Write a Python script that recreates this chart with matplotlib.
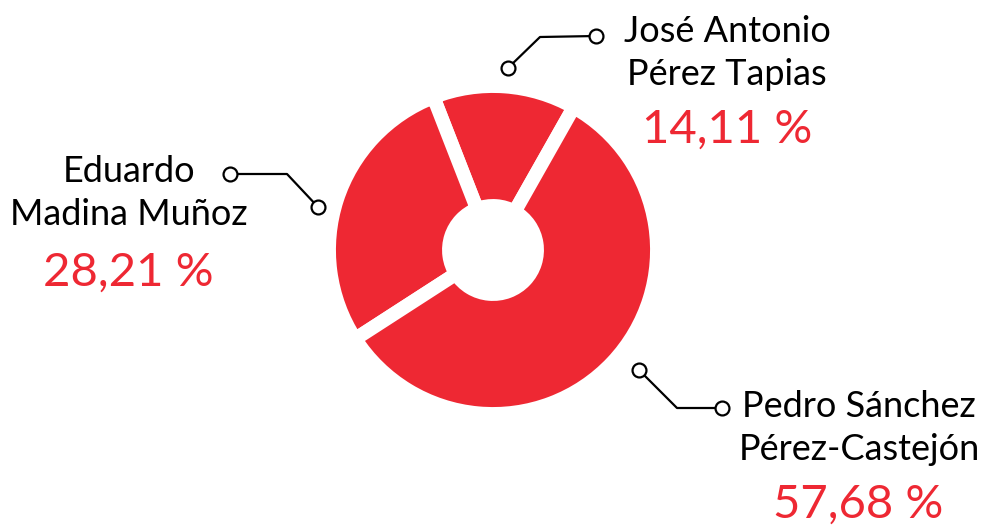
import matplotlib
matplotlib.use("Agg")
import matplotlib.pyplot as plt

names = ["José Antonio\nPérez Tapias", "Eduardo\nMadina Muñoz", "Pedro Sánchez\nPérez-Castejón"]
shares = [14.11, 28.21, 57.68]

RED = "#EE2833"
W, H = 981, 530

fig = plt.figure(figsize=(W / 100, H / 100), dpi=100)
ax = fig.add_axes([0, 0, 1, 1])

# donut, pixel coordinates with y measured from bottom
cx, cy = 493, H - 250
ax.pie(shares, colors=[RED] * 3, startangle=60.5, counterclock=True,
       center=(cx, cy), radius=164,
       wedgeprops=dict(width=120, edgecolor="white", linewidth=10))
ax.set_xlim(0, W)
ax.set_ylim(0, H)
ax.set_aspect("equal")
ax.axis("off")

# connector lines (pixel coords from the top)
connectors = [
    [(508, 68), (540, 37), (596, 36)],
    [(318, 207), (287, 174), (230, 174)],
    [(639, 370), (677, 408), (722, 408)],
]
for pts in connectors:
    xs = [p[0] for p in pts]
    ys = [H - p[1] for p in pts]
    ax.plot(xs, ys, color="black", lw=1.6, zorder=3)
    ax.plot([xs[0], xs[-1]], [ys[0], ys[-1]], "o", ms=10, mfc="white",
            mec="black", mew=1.6, zorder=4)

fam = ["Lato", "DejaVu Sans"]
name_pos = [(727, 53), (129, 193), (859, 428)]
pct_pos = [(727, 130), (128, 273), (858, 505)]
for name, share, (nx, ny), (px, py) in zip(names, shares, name_pos, pct_pos):
    ax.text(nx, H - ny, name, ha="center", va="center", fontsize=26,
            family=fam, linespacing=1.38, color="black")
    pct = f"{share:.2f}".replace(".", ",") + " %"
    ax.text(px, H - py, pct, ha="center", va="center", fontsize=34,
            family=fam, color=RED)

fig.savefig("out.png", dpi=100)
